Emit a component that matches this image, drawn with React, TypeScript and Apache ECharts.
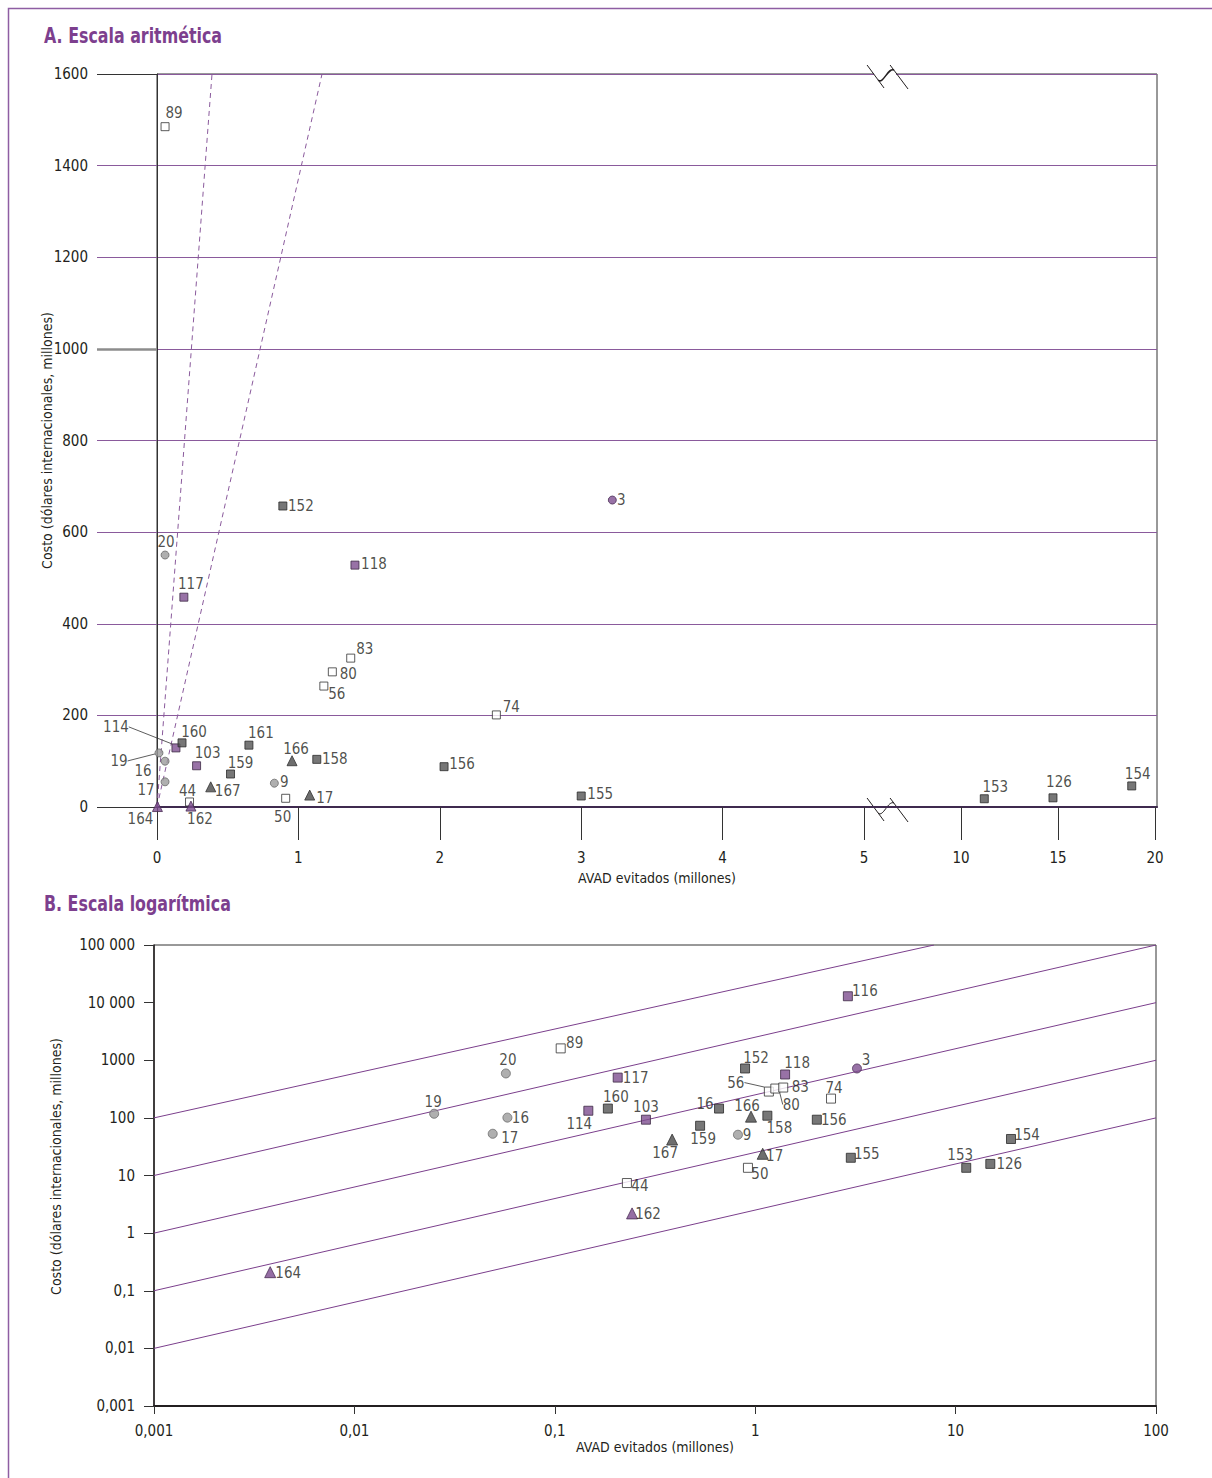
import React, { useEffect, useRef } from 'react';
import * as echarts from 'echarts';

const FONT = "'Liberation Sans Narrow', 'DejaVu Sans Condensed', 'Open Sans', sans-serif";
const PURPLE = '#7d3f8e';
const GRIDPURPLE = '#8a5a9c';
const INK = '#231f20';

// ---------- Panel A (arithmetic scale) ----------
const aLabels = ['89', '20', '117', '152', '118', '3', '83', '80', '56', '74', '114', '160', '19', '16', '17', '164', '44', '162', '103', '161', '159', '167', '9', '166', '158', '50', '17', '156', '155', '153', '126', '154'];
const aKinds = ['open', 'gray', 'purple', 'dark', 'purple', 'pcircle', 'open', 'open', 'open', 'open', 'purple', 'dark', 'gray', 'gray', 'gray', 'ptri', 'open', 'ptri', 'purple', 'dark', 'dark', 'dtri', 'gray', 'dtri', 'dark', 'open', 'dtri', 'dark', 'dark', 'dark', 'dark', 'dark'];
const aX = [0.057, 0.057, 0.19, 0.89, 1.4, 3.22, 1.37, 1.24, 1.18, 2.4, 0.134, 0.177, 0.014, 0.057, 0.057, 0.003, 0.23, 0.24, 0.28, 0.65, 0.52, 0.38, 0.83, 0.955, 1.13, 0.91, 1.08, 2.03, 3.0, 11.2, 14.74, 18.8];
const aY = [1485, 550, 458, 657, 528, 670, 325, 295, 264, 201, 129, 140, 118, 100, 55, 1, 11, 2, 90, 135, 72, 44, 52, 101, 104, 19, 26, 88, 24, 18, 20, 46];
const aXTicks = [0, 1, 2, 3, 4, 5, 10, 15, 20];
const aRayTopX = [0.389, 1.167]; // dashed rays through origin reach 1600 at these x
const A_YMAX = 1600;

// label placement (pixels relative to marker centre), kept apart from the data
const aLabelDx = [9, 1, 7, 18, 19, 9, 14, 16, 13, 15, -60, 12, -40, -22, -19, -17, -2, 9, 11, 12, 10, 17, 10, 4, 18, -3, 15, 18, 19, 11, 6, 6];
const aLabelDy = [-14, -13, -13, 0, -1, 0, -9, 2, 8, -8, -21, -11, 8, 10, 8, 12, -11, 13, -13, -12, -11, 4, -1, -12, 0, 19, 3, -3, -2, -12, -16, -12];
const aLeader = ['114', '19'];

// ---------- Panel B (logarithmic scale) ----------
const bLabels = ['116', '89', '20', '19', '16', '17', '117', '160', '114', '103', '167', '44', '162', '159', '16', '9', '166', '158', '17', '50', '152', '118', '56', '80', '83', '74', '3', '156', '155', '153', '126', '154', '164'];
const bKinds = ['purple', 'open', 'gray', 'gray', 'gray', 'gray', 'purple', 'dark', 'purple', 'purple', 'dtri', 'open', 'ptri', 'dark', 'dark', 'gray', 'dtri', 'dark', 'dtri', 'open', 'dark', 'purple', 'open', 'open', 'open', 'open', 'pcircle', 'dark', 'dark', 'dark', 'dark', 'dark', 'ptri'];
const bX = [2.9, 0.107, 0.057, 0.025, 0.058, 0.049, 0.206, 0.184, 0.147, 0.285, 0.385, 0.229, 0.243, 0.531, 0.66, 0.82, 0.953, 1.15, 1.09, 0.92, 0.89, 1.41, 1.17, 1.26, 1.38, 2.39, 3.22, 2.03, 3.0, 11.3, 14.9, 18.9, 0.0038];
const bY = [12900, 1607, 590, 118, 101, 53, 500, 145, 133, 93, 42, 7.4, 2.2, 73, 145, 51, 105, 109, 23.8, 13.6, 720, 566, 286, 323, 336, 216, 720, 93, 20.3, 13.6, 15.9, 43, 0.21];
const bXTicks = [0.001, 0.01, 0.1, 1, 10, 100];
const bXTickText = ['0,001', '0,01', '0,1', '1', '10', '100'];
const bYTicks = [0.001, 0.01, 0.1, 1, 10, 100, 1000, 10000, 100000];
const bYTickText = ['0,001', '0,01', '0,1', '1', '10', '100', '1000', '10 000', '100 000'];
const bLineStart = [[0.001, 100], [0.001, 10], [0.001, 1], [0.001, 0.1], [0.001, 0.01]];
const bLineEnd = [[7.8, 100000], [100, 100000], [100, 10000], [100, 1000], [100, 100]];

const bLabelDx = [17, 14, 2, -1, 13, 17, 18, 8, -9, 0, -7, 13, 16, 3, -14, 9, -4, 12, 12, 12, 11, 12, -33, 16, 17, 3, 9, 17, 16, -6, 19, 16, 18];
const bLabelDy = [-5, -5, -13, -12, 0, 4, 0, -12, 13, -13, 13, 3, 1, 13, -5, 0, -11, 12, 2, 6, -10, -11, -9, 16, -1, -11, -8, 0, -4, -13, 0, -4, 1];
const bLeader = ['56', '80'];

const TITLE_A = 'A. Escala aritmética';
const TITLE_B = 'B. Escala logarítmica';
const X_NAME = 'AVAD evitados (millones)';
const Y_NAME = 'Costo (dólares internacionales, millones)';

// ---------- broken x axis of panel A ----------
const BREAK_AT = 5;
const BREAK_RATIO = 0.1372; // one unit beyond the break is drawn this fraction of a unit before it
const toAxisA = (x: number) => (x <= BREAK_AT ? x : BREAK_AT + (x - BREAK_AT) * BREAK_RATIO);
const A_XMAX_AXIS = 7.072;
const BREAK_MARK_T = 5.163;

const KIND_STYLE: Record<string, any> = {
  open: { symbol: 'rect', size: 8, color: '#ffffff', border: '#333333' },
  dark: { symbol: 'rect', size: 8, color: '#555555', border: '#2a2a2a' },
  purple: { symbol: 'rect', size: 8, color: '#7e4f90', border: '#3d2a45' },
  gray: { symbol: 'circle', size: 8, color: '#9b9b9b', border: '#6a6a6a' },
  pcircle: { symbol: 'circle', size: 8, color: '#7e4f90', border: '#4a2d55' },
  dtri: { symbol: 'triangle', size: 10, color: '#4a4a4a', border: '#333333' },
  ptri: { symbol: 'triangle', size: 10, color: '#7b4a8d', border: '#4a2d55' },
};

function buildPoints(labels: string[], kinds: string[], xs: number[], ys: number[], leaders: string[], mapX: (v: number) => number, sizeBoost: number) {
  return labels.map((lab, i) => {
    const st = KIND_STYLE[kinds[i]];
    const isLeader = leaders.indexOf(lab) >= 0 && (kinds[i] === 'purple' || kinds[i] === 'gray' || kinds[i] === 'open');
    return {
      name: lab,
      value: [mapX(xs[i]), ys[i]],
      symbol: st.symbol,
      symbolSize: st.size + sizeBoost,
      itemStyle: { color: st.color, borderColor: st.border, borderWidth: 1 },
      labelLine: { show: isLeader },
    };
  });
}

export default function App() {
  const ref = useRef<HTMLDivElement>(null);
  useEffect(() => {
    if (!ref.current) return;
    const chart = echarts.init(ref.current, null, { renderer: 'svg' });
    const labelStyle = { fontFamily: FONT, fontSize: 15, color: INK };
    const nameStyle = { fontFamily: FONT, fontSize: 14, color: INK };

    const aPoints = buildPoints(aLabels, aKinds, aX, aY, aLeader, toAxisA, 0);
    const bPoints = buildPoints(bLabels, bKinds, bX, bY, bLeader, (v) => v, 1);

    const option: any = {
      animation: false,
      backgroundColor: '#ffffff',
      textStyle: { fontFamily: FONT },
      grid: [
        { left: 157, top: 74, width: 1000, height: 733, show: true, borderColor: '#333', borderWidth: 1, containLabel: false },
        { left: 154, top: 945, width: 1002, height: 461, show: true, borderColor: '#333', borderWidth: 1, containLabel: false },
      ],
      xAxis: [
        {
          gridIndex: 0, type: 'value', min: 0, max: A_XMAX_AXIS, position: 'bottom',
          name: X_NAME, nameLocation: 'middle', nameGap: 64, nameMoveOverlap: false,
          nameTextStyle: nameStyle,
          axisLine: { show: true, lineStyle: { color: '#333', width: 1 } },
          axisTick: { show: true, inside: false, length: 33, customValues: aXTicks.map(toAxisA), lineStyle: { color: '#333', width: 1 } },
          axisLabel: {
            show: true, margin: 43, fontFamily: FONT, fontSize: 15, color: INK,
            customValues: aXTicks.map(toAxisA),
            formatter: (v: number) => {
              const i = aXTicks.findIndex((t) => Math.abs(toAxisA(t) - v) < 1e-6);
              return i >= 0 ? String(aXTicks[i]) : '';
            },
          },
          splitLine: { show: false },
        },
        {
          gridIndex: 0, type: 'value', min: 0, max: A_XMAX_AXIS, position: 'top',
          axisLine: { show: true, lineStyle: { color: '#3f2a4f', width: 2 } },
          axisTick: { show: false }, axisLabel: { show: false }, splitLine: { show: false },
        },
        {
          gridIndex: 1, type: 'log', logBase: 10, min: 0.001, max: 100, position: 'bottom',
          name: X_NAME, nameLocation: 'middle', nameGap: 34, nameMoveOverlap: false,
          nameTextStyle: nameStyle,
          axisLine: { show: true, lineStyle: { color: '#231f20', width: 2 } },
          axisTick: { show: true, inside: false, length: 8, customValues: bXTicks, lineStyle: { color: '#333', width: 1 } },
          axisLabel: {
            show: true, margin: 17, fontFamily: FONT, fontSize: 15, color: INK, customValues: bXTicks,
            formatter: (v: number) => bXTickText[Math.round(Math.log10(v)) + 3] ?? '',
          },
          splitLine: { show: false },
        },
      ],
      yAxis: [
        {
          gridIndex: 0, type: 'value', min: 0, max: A_YMAX, interval: 200, position: 'left',
          name: Y_NAME, nameLocation: 'middle', nameGap: 103, nameRotate: 90, nameMoveOverlap: false,
          nameTextStyle: nameStyle,
          axisLine: { show: true, lineStyle: { color: '#333', width: 1 } },
          axisTick: { show: true, inside: false, length: 60, lineStyle: { color: GRIDPURPLE, width: 1 } },
          axisLabel: { show: true, margin: 69, fontFamily: FONT, fontSize: 15, color: INK, formatter: (v: number) => String(v) },
          splitLine: { show: true, lineStyle: { color: GRIDPURPLE, width: 1 } },
        },
        {
          gridIndex: 0, type: 'value', min: 0, max: A_YMAX, position: 'left',
          axisLine: { show: false }, axisLabel: { show: false }, splitLine: { show: false },
          axisTick: { show: true, inside: false, length: 60, customValues: [0, A_YMAX], lineStyle: { color: '#333', width: 1 } },
        },
        {
          gridIndex: 0, type: 'value', min: 0, max: A_YMAX, position: 'left',
          axisLine: { show: false }, axisLabel: { show: false }, splitLine: { show: false },
          axisTick: { show: true, inside: false, length: 60, customValues: [1000], lineStyle: { color: '#8c8c8c', width: 2.5 } },
        },
        {
          gridIndex: 1, type: 'log', logBase: 10, min: 0.001, max: 100000, position: 'left',
          name: Y_NAME, nameLocation: 'middle', nameGap: 91, nameRotate: 90, nameMoveOverlap: false,
          nameTextStyle: { ...nameStyle, padding: [0, 0, 0, 18] },
          axisLine: { show: true, lineStyle: { color: '#231f20', width: 1.5 } },
          axisTick: { show: true, inside: false, length: 10, customValues: bYTicks, lineStyle: { color: '#333', width: 1 } },
          axisLabel: {
            show: true, margin: 19, fontFamily: FONT, fontSize: 15, color: INK, customValues: bYTicks,
            formatter: (v: number) => bYTickText[Math.round(Math.log10(v)) + 3] ?? '',
          },
          splitLine: { show: false },
        },
      ],
      series: [
        ...aRayTopX.map((x) => ({
          type: 'line', xAxisIndex: 0, yAxisIndex: 0, symbol: 'none', silent: true,
          data: [[0, 0], [toAxisA(x), A_YMAX]],
          lineStyle: { color: '#8a5a9c', width: 1, type: [5, 4] }, z: 1,
        })),
        {
          type: 'scatter', xAxisIndex: 0, yAxisIndex: 0, data: aPoints, z: 5,
          label: { show: true, position: 'inside', formatter: '{b}', ...labelStyle },
          labelLine: { show: false, lineStyle: { color: '#333', width: 0.8 } },
          labelLayout: (p: any) => ({ dx: aLabelDx[p.dataIndex], dy: aLabelDy[p.dataIndex] }),
        },
        ...bLineStart.map((s, i) => ({
          type: 'line', xAxisIndex: 2, yAxisIndex: 3, symbol: 'none', silent: true,
          data: [s, bLineEnd[i]],
          lineStyle: { color: '#7b3f8c', width: 1 }, z: 1,
        })),
        {
          type: 'scatter', xAxisIndex: 2, yAxisIndex: 3, data: bPoints, z: 5,
          label: { show: true, position: 'inside', formatter: '{b}', ...labelStyle },
          labelLine: { show: false, lineStyle: { color: '#333', width: 0.8 } },
          labelLayout: (p: any) => ({ dx: bLabelDx[p.dataIndex], dy: bLabelDy[p.dataIndex] }),
        },
      ],
    };
    chart.setOption(option);

    // decorations: outer frame, titles and axis-break marks
    const bot = chart.convertToPixel({ xAxisIndex: 0, yAxisIndex: 0 }, [BREAK_MARK_T, 0]) as number[];
    const top = chart.convertToPixel({ xAxisIndex: 0, yAxisIndex: 0 }, [BREAK_MARK_T, A_YMAX]) as number[];
    const breakMark = (cx: number, cy: number, lw: number) => ({
      type: 'group', x: cx, y: cy, z: 50,
      children: [
        { type: 'rect', shape: { x: -13, y: -2, width: 22, height: 4 }, style: { fill: '#fff' } },
        { type: 'line', shape: { x1: -20, y1: -9, x2: -3, y2: 14 }, style: { stroke: '#231f20', lineWidth: 1 } },
        { type: 'line', shape: { x1: 3, y1: -9, x2: 21, y2: 15 }, style: { stroke: '#231f20', lineWidth: 1 } },
        { type: 'bezierCurve', shape: { x1: -9, y1: 6, cpx1: -4, cpy1: 11, cpx2: 1, cpy2: -7, x2: 7, y2: -4 }, style: { stroke: '#231f20', lineWidth: lw, fill: 'none' } },
      ],
    });
    const titleText = (text: string, y: number) => ({
      type: 'text', x: 44, y, scaleX: 0.84, z: 60,
      style: { text, fill: PURPLE, font: `bold 21px ${FONT}`, textAlign: 'left', textVerticalAlign: 'middle' },
    });
    chart.setOption({
      graphic: [
        { type: 'rect', left: 6, top: 6, shape: { x: 0, y: 0, width: 1300, height: 1600 }, style: { fill: 'none', stroke: '#8e5ea3', lineWidth: 1.5 }, z: 60, silent: true },
        titleText(TITLE_A, 36),
        titleText(TITLE_B, 904),
        breakMark(bot[0], bot[1], 1),
        breakMark(top[0], top[1], 1.5),
      ],
    });
    return () => chart.dispose();
  }, []);
  return <div ref={ref} style={{ position: 'absolute', left: 0, top: 0, width: 1212, height: 1478, background: '#fff' }} />;
}
